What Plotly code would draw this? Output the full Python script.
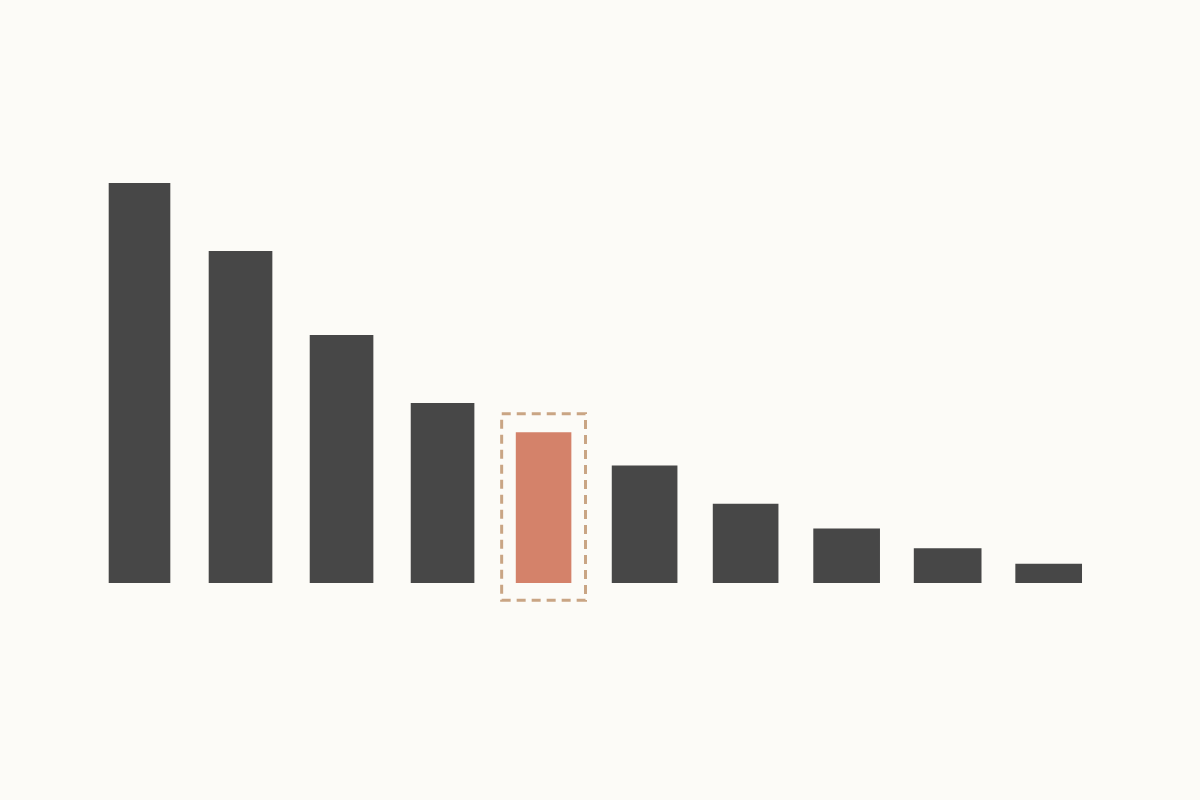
import plotly.graph_objects as go
import numpy as np

# bar heights, left to right
values = [100, 83, 62, 45, 37.7, 29.4, 19.8, 13.6, 8.7, 4.8]
highlight = 4  # the salmon bar with the dashed frame
bar_widths = [0.61, 0.63, 0.63, 0.63, 0.55, 0.65, 0.65, 0.66, 0.67, 0.66]

dark = '#474747'
accent = '#d4826a'
frame = '#c9a584'
bg = '#fcfbf7'

x = np.arange(len(values))
colors = [accent if i == highlight else dark for i in x]

fig = go.Figure()
fig.add_trace(go.Bar(x=x, y=values, width=bar_widths,
                     marker=dict(color=colors, line=dict(width=0)),
                     hoverinfo='skip'))

# dashed box around the highlighted bar
fig.add_shape(type='rect',
              x0=highlight - 0.415, x1=highlight + 0.415,
              y0=-4.3, y1=values[highlight] + 4.6,
              line=dict(color=frame, width=3, dash='9px,6px'),
              fillcolor='rgba(0,0,0,0)', layer='below')

fig.update_layout(width=1200, height=800,
                  margin=dict(l=0, r=0, t=0, b=0),
                  paper_bgcolor=bg, plot_bgcolor=bg,
                  showlegend=False,
                  xaxis=dict(range=(-1.381, 10.498), visible=False, fixedrange=True),
                  yaxis=dict(range=(-54.25, 145.75), visible=False, fixedrange=True))

# drop the page's default body margin so the figure fills the window
fig.write_html("out.html", config={'displayModeBar': False},
               post_script="document.body.style.margin='0';"
                           f"document.body.style.background='{bg}';")
